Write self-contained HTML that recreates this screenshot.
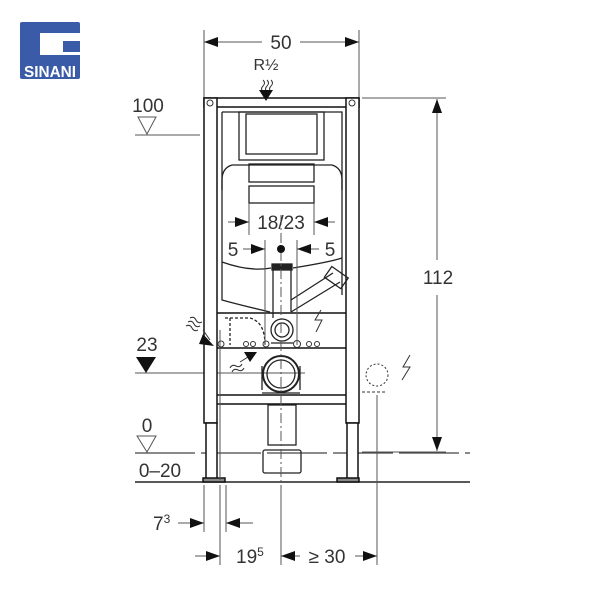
<!DOCTYPE html>
<html><head><meta charset="utf-8"><style>
html,body{margin:0;padding:0;background:#fff;width:600px;height:600px;overflow:hidden}
svg{display:block}
text{font-family:"Liberation Sans",sans-serif;fill:#333}
</style></head><body>
<svg width="600" height="600" viewBox="0 0 600 600" xmlns="http://www.w3.org/2000/svg">
<defs>
<marker id="ar" viewBox="0 0 14 10" refX="14" refY="5" markerWidth="14" markerHeight="10" orient="auto-start-reverse"><path d="M0,0 L14,5 L0,10 z" fill="#111"/></marker>
</defs>
<!-- logo -->
<rect x="20" y="22" width="60" height="57" rx="2" fill="#3a5ba8"/>
<rect x="40" y="33" width="40" height="22" fill="#fff"/>
<rect x="63" y="41" width="17" height="11" fill="#3a5ba8"/>
<text x="50" y="77" text-anchor="middle" font-size="16" font-weight="bold" style="fill:#fff" textLength="52" lengthAdjust="spacingAndGlyphs">SINANI</text>

<g stroke="#555" stroke-width="1" fill="none">
<line x1="204" y1="30" x2="204" y2="98"/><line x1="359" y1="30" x2="359" y2="98"/>
<line x1="220" y1="42" x2="204" y2="42" marker-end="url(#ar)"/>
<line x1="343" y1="42" x2="359" y2="42" marker-end="url(#ar)"/>
<line x1="218" y1="42" x2="262" y2="42"/><line x1="300" y1="42" x2="345" y2="42"/>
<line x1="135" y1="135" x2="200" y2="135"/>
<path d="M138,117 L156,117 L147,134 z"/>
<line x1="362" y1="98" x2="446" y2="98"/><line x1="362" y1="452" x2="446" y2="452"/>
<line x1="437" y1="260" x2="437" y2="99" marker-end="url(#ar)"/>
<line x1="437" y1="295" x2="437" y2="451" marker-end="url(#ar)"/>
<line x1="135" y1="453" x2="470" y2="453" stroke-dasharray="60 6" stroke="#444" stroke-width="1.3"/>
<line x1="135" y1="482" x2="470" y2="482" stroke="#222" stroke-width="1.5"/>
<path d="M137,436 L156,436 L147,452 z"/>
<line x1="135" y1="373" x2="305" y2="373"/>
<line x1="204" y1="485" x2="204" y2="532"/><line x1="226" y1="485" x2="226" y2="532"/>
<line x1="220" y1="485" x2="220" y2="565"/><line x1="281" y1="485" x2="281" y2="565"/>
<line x1="377" y1="395" x2="377" y2="565"/>
<line x1="178" y1="523" x2="204" y2="523" marker-end="url(#ar)"/>
<line x1="253" y1="523" x2="226" y2="523" marker-end="url(#ar)"/>
<line x1="195" y1="556" x2="220" y2="556" marker-end="url(#ar)"/>
<line x1="300" y1="556" x2="281" y2="556" marker-end="url(#ar)"/>
<line x1="355" y1="556" x2="377" y2="556" marker-end="url(#ar)"/>
</g>

<g stroke="#111" stroke-width="1.5" fill="#fff">
<rect x="204" y="98" width="155" height="9"/>
<rect x="204" y="98" width="13" height="325"/>
<rect x="346" y="98" width="13" height="325"/>
<rect x="206" y="423" width="11" height="57"/>
<rect x="347" y="423" width="11" height="57"/>
<rect x="203" y="478" width="22" height="4" fill="#888"/>
<rect x="337" y="478" width="22" height="4" fill="#888"/>
<line x1="217" y1="313" x2="346" y2="313"/>
<line x1="217" y1="348" x2="346" y2="348"/>
<line x1="217" y1="395" x2="346" y2="395"/>
<line x1="217" y1="404" x2="346" y2="404"/>
</g>
<circle cx="210" cy="103" r="3" fill="none" stroke="#333"/>
<circle cx="352" cy="103" r="3" fill="none" stroke="#333"/>

<g stroke="#222" stroke-width="1.3" fill="none">
<path d="M222,112 L342,112 L342,190"/>
<path d="M222,112 L222,190"/>
<rect x="239" y="112" width="85" height="48"/>
<rect x="246" y="114" width="71" height="40"/>
<path d="M232,165 L332,165 Q342,168 342,180 L342,295 M222,180 Q222,168 232,165 M222,180 L222,300 Q240,305 270,312"/>
<rect x="249" y="164" width="65" height="18"/>
<rect x="249" y="186" width="65" height="17"/>
<path d="M222,262 Q250,272 271,268 M293,268 Q330,262 342,258"/>
<rect x="272" y="264" width="20" height="6" fill="#222"/>
<path d="M273,270 L273,318 M291,270 L291,312"/>
<path d="M291,312 L340,282 M291,300 L333,273"/>
<rect x="330" y="268" width="13" height="20" transform="rotate(-55 336 278)"/>
<path d="M225,318 L250,318 Q265,322 265,345 M230,318 L230,345" stroke-dasharray="3 2"/>
<circle cx="282" cy="330" r="11"/><circle cx="282" cy="330" r="7"/>
<path d="M271,343 L293,343"/>
<circle cx="281" cy="374" r="18" stroke-width="2"/><circle cx="281" cy="374" r="14"/>
<path d="M262,393 L300,393 M262,366 L262,390 M300,366 L300,390"/>
<rect x="268" y="405" width="28" height="40"/>
<rect x="263" y="450" width="38" height="23" rx="2"/>
</g>
<g fill="none" stroke="#333">
<circle cx="221" cy="344" r="3"/><circle cx="246" cy="344" r="2.5"/><circle cx="253" cy="344" r="2.5"/><circle cx="266" cy="344" r="3"/>
<circle cx="297" cy="344" r="3.5"/><circle cx="309" cy="344" r="2.5"/><circle cx="317" cy="344" r="2.5"/>
<circle cx="377" cy="375" r="11" stroke-dasharray="2 2"/>
<path d="M362,392 L386,392" stroke-dasharray="3 2"/>
</g>
<g stroke="#555" stroke-width="1" fill="none">
<line x1="249" y1="203" x2="249" y2="235"/><line x1="314" y1="203" x2="314" y2="235"/>
<line x1="228" y1="222" x2="249" y2="222" marker-end="url(#ar)"/>
<line x1="335" y1="222" x2="314" y2="222" marker-end="url(#ar)"/>
<line x1="265" y1="240" x2="265" y2="345"/><line x1="297" y1="240" x2="297" y2="345"/>
<line x1="243" y1="249" x2="265" y2="249" marker-end="url(#ar)"/>
<line x1="319" y1="249" x2="297" y2="249" marker-end="url(#ar)"/>
<line x1="281" y1="215" x2="281" y2="565" stroke-dasharray="10 3 2 3"/>
<line x1="220" y1="330" x2="220" y2="480"/>
</g>
<circle cx="281" cy="249" r="4" fill="#111"/>
<g stroke="#333" fill="none" stroke-width="1">
<path d="M263,80 q3,3 0,6 q-3,3 0,6 M267,80 q3,3 0,6 q-3,3 0,6 M271,80 q3,3 0,6 q-3,3 0,6"/>
<path d="M190,318 q4,-2 6,2 q2,4 6,2 M188,322 q4,-2 6,2 q2,4 6,2 M186,326 q4,-2 6,2 q2,4 6,2 M203,330 L210,340"/>
<path d="M230,368 q2,-4 6,-2 q4,2 6,-2 M232,372 q2,-4 6,-2 q4,2 6,-2 M240,362 L248,357"/>
<path d="M321,310 L315,320 L322,320 L316,332"/><path d="M410,355 L403,367 L410,367 L402,380"/>
</g>
<path d="M259,90 L273,90 L266,101 z" fill="#111"/>
<path d="M203,334 L214,346 L199,344 z" fill="#111"/>
<path d="M244,352 L257,352 L250,362 z" fill="#111"/>
<path d="M136,357 L156,357 L146,373 z" fill="#111"/>

<g font-size="19">
<text x="281" y="49" text-anchor="middle">50</text>
<text x="266" y="70" text-anchor="middle" font-size="16">R½</text>
<text x="148" y="112" text-anchor="middle">100</text>
<text x="438" y="284" text-anchor="middle">112</text>
<text x="281" y="229" text-anchor="middle">18/23</text>
<text x="233" y="256" text-anchor="middle">5</text>
<text x="330" y="256" text-anchor="middle">5</text>
<text x="147" y="351" text-anchor="middle">23</text>
<text x="147" y="432" text-anchor="middle">0</text>
<text x="160" y="477" text-anchor="middle">0–20</text>
<text x="153" y="530">7<tspan font-size="12" dy="-7">3</tspan></text>
<text x="236" y="563">19<tspan font-size="12" dy="-7">5</tspan></text>
<text x="327" y="563" text-anchor="middle">≥ 30</text>
</g>
</svg>
</body></html>
